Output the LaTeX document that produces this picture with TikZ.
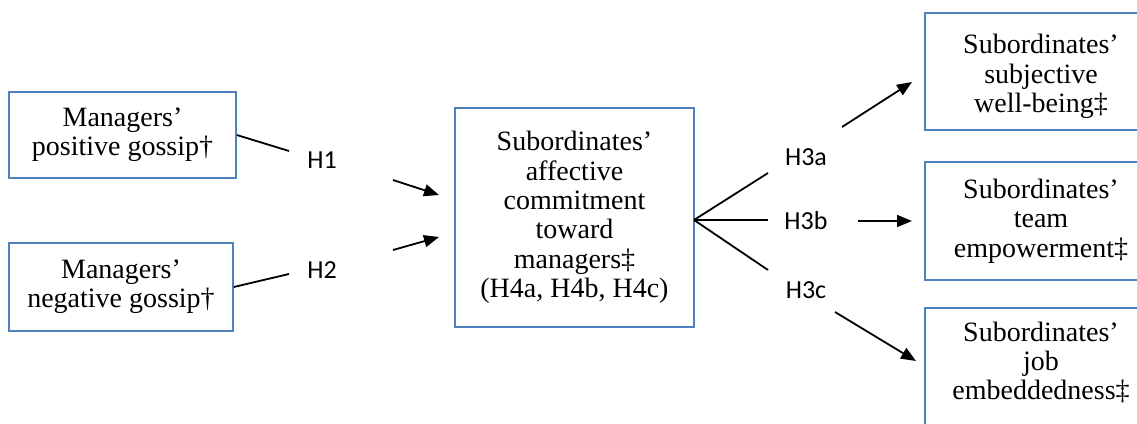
\documentclass[tikz,border=0pt]{standalone}
\usepackage{fontspec}
\setmainfont{Liberation Serif}
\newfontfamily\hypfont{Carlito}
\usetikzlibrary{arrows.meta}
\definecolor{boxblue}{RGB}{79,129,189}
\begin{document}
\begin{tikzpicture}[x=1pt,y=-1pt,
  boxtext/.style={align=center, inner sep=0pt, font=\fontsize{28}{29.4}\selectfont},
  box/.style={boxtext, draw=boxblue, line width=1.6pt},
  hyp/.style={font=\hypfont\fontsize{26}{28}\selectfont, inner sep=0pt},
  conn/.style={line width=1.8pt},
  arr/.style={conn, -{Triangle[length=15pt,width=12pt]}}]
\useasboundingbox (0,0) rectangle (1137,423);
\clip (0,0) rectangle (1137,423);
% boxes
\node[box, minimum width=227pt, minimum height=86pt] (b1) at (122.5,135) {Managers’\\positive gossip†};
\node[box, minimum width=224pt, minimum height=88pt] (b2) at (121,287) {Managers’\\negative gossip†};
\node[box, minimum width=239pt, minimum height=219pt] (c) at (574.5,217.5) {Subordinates’\\affective\\commitment\\toward\\managers‡\\(H4a, H4b, H4c)};
\node[box, minimum width=232pt, minimum height=117pt,
  label={[boxtext, yshift=-5pt]center:Subordinates’\\subjective\\well-being‡}] (r1) at (1041,71.5) {};
\node[box, minimum width=232pt, minimum height=118pt] (r2) at (1041,221) {Subordinates’\\team\\empowerment‡};
\node[box, minimum width=232pt, minimum height=117pt,
  label={[boxtext, yshift=4pt]center:Subordinates’\\job\\embeddedness‡}] (r3) at (1041,366.5) {};
% hypothesis labels
\node[hyp] (h1) at (322,160) {H1};
\node[hyp] (h2) at (322,270) {H2};
\node[hyp] (h3a) at (806,157) {H3a};
\node[hyp] (h3b) at (806,221) {H3b};
\node[hyp] (h3c) at (806,290) {H3c};
% coordinates
\coordinate (l1e) at (289,151);
\coordinate (l2e) at (289,274);
\coordinate (a1s) at (393,180);
\coordinate (a1e) at (439,195);
\coordinate (a2s) at (393,250);
\coordinate (a2e) at (439,237);
\coordinate (fork) at (694,220);
\coordinate (f1) at (768,173);
\coordinate (f2) at (768,220);
\coordinate (f3) at (768,270);
\coordinate (o1s) at (842,127);
\coordinate (o1e) at (912,82);
\coordinate (o2s) at (858,221);
\coordinate (o2e) at (912,221);
\coordinate (o3s) at (835,312);
\coordinate (o3e) at (916,361);
% connectors
\draw[conn] (b1.east) -- (l1e);
\draw[conn] (b2.east) -- (l2e);
\draw[arr] (a1s) -- (a1e);
\draw[arr] (a2s) -- (a2e);
\draw[conn] (fork) -- (f1);
\draw[conn] (fork) -- (f2);
\draw[conn] (fork) -- (f3);
\draw[arr] (o1s) -- (o1e);
\draw[arr] (o2s) -- (o2e);
\draw[arr] (o3s) -- (o3e);
\end{tikzpicture}
\end{document}
